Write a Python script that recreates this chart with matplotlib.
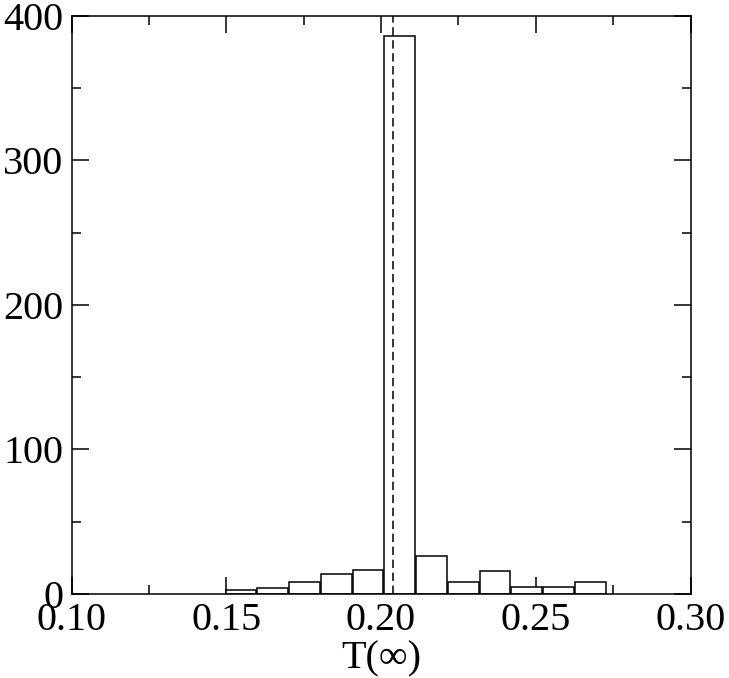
import matplotlib
matplotlib.use("Agg")
import matplotlib.pyplot as plt
from matplotlib.ticker import MultipleLocator, FormatStrFormatter

# Histogram data (bin left edges and counts)
bin_left = [0.1498, 0.1600, 0.1703, 0.1806, 0.1908, 0.2011,
            0.2113, 0.2216, 0.2319, 0.2421, 0.2524, 0.2627]
bin_width = 0.0099
counts = [2.5, 4, 8, 13.5, 16.5, 386, 26, 8, 16, 4.5, 4.5, 8]
mean_value = 0.2038

x_ticks = [0.10, 0.15, 0.20, 0.25, 0.30]
y_ticks = [0, 100, 200, 300, 400]

plt.rcParams['font.family'] = ['Liberation Serif', 'DejaVu Serif']

fig = plt.figure(figsize=(7.29, 6.78), dpi=100)
ax = fig.add_axes([0.0981, 0.1239, 0.8491, 0.8525])

ax.bar(bin_left, counts, width=bin_width, align='edge',
       facecolor='white', edgecolor='black', linewidth=1.1, zorder=2)
ax.axvline(mean_value, color='black', linewidth=1.1,
           dashes=(5.5, 3), zorder=3)

ax.set_xlim(0.10, 0.30)
ax.set_ylim(0, 400)
ax.set_xticks(x_ticks)
ax.set_yticks(y_ticks)
ax.xaxis.set_major_formatter(FormatStrFormatter('%.2f'))
ax.xaxis.set_minor_locator(MultipleLocator(0.025))
ax.yaxis.set_minor_locator(MultipleLocator(50))

ax.tick_params(which='both', direction='in', top=True, right=True,
               width=1.1, labelsize=29, zorder=4)
ax.tick_params(which='major', length=12.5)
ax.tick_params(which='minor', length=6.5)
ax.tick_params(axis='x', which='major', pad=6)
ax.tick_params(axis='y', which='major', pad=6)

for s in ax.spines.values():
    s.set_linewidth(1.1)
    s.set_zorder(5)

ax.set_xlabel('T(∞)', fontsize=29, labelpad=1)

fig.savefig('out.png', dpi=100)
